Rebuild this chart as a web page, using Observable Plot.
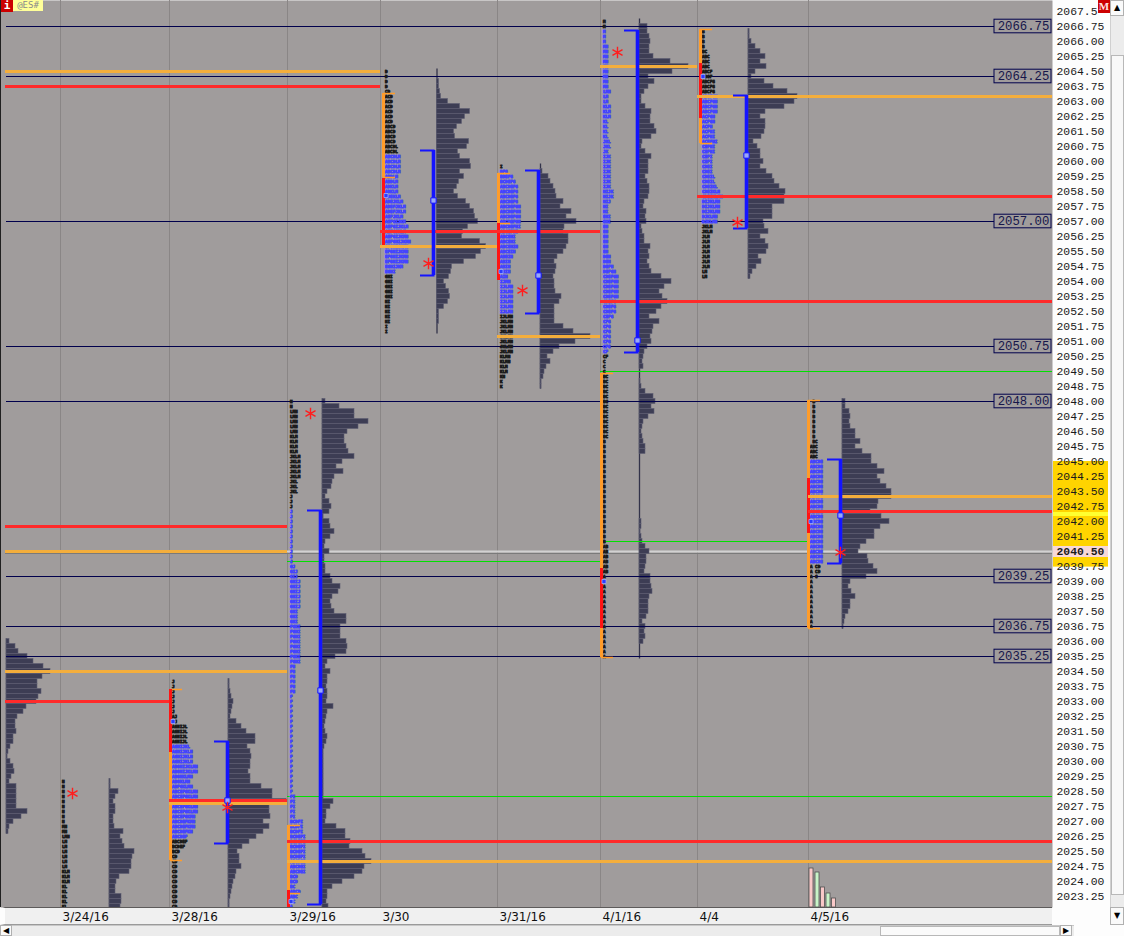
<!DOCTYPE html>
<html>
<head>
<meta charset="utf-8">
<script src="https://cdn.jsdelivr.net/npm/d3@7"></script>
<script src="https://cdn.jsdelivr.net/npm/@observablehq/plot@0.6"></script>
<style>
html,body{margin:0;padding:0;background:#f0f0f0;}
#wrap{position:relative;width:1124px;height:936px;overflow:hidden;background:#f0f0f0;}
#wrap svg{position:absolute;left:0;top:0;}
.c{position:absolute;box-sizing:border-box;}
g[aria-label="tpo"] text{letter-spacing:2.4px;}
g[aria-label="dates"] text{letter-spacing:1.2px;}
.arrow{font:8px "DejaVu Sans",sans-serif;color:#000;text-align:center;}
</style>
</head>
<body>
<div id="wrap">
  <div class="c" style="left:1052px;top:0;width:58px;height:925px;background:#fdfdfd;"></div>
  <div class="c" style="left:0;top:906px;width:1052px;height:19px;background:#f0f0f0;border-top:2px solid #1a1a1a;border-bottom:1px solid #9a9a9a;border-left:5px solid #fdfdfd;"></div>
  <div class="c" style="left:1110px;top:0;width:14px;height:925px;background:#ececec;border-left:1px solid #d0d0d0;"></div>
  <div class="c arrow" style="left:1110px;top:0;width:14px;height:16px;background:#fafafa;border:1px solid #b0b0b0;line-height:14px;">&#9650;</div>
  <div class="c" style="left:1111px;top:55px;width:13px;height:840px;background:#f8f8f8;border:1px solid #b8b8b8;"></div>
  <div class="c arrow" style="left:1110px;top:907px;width:14px;height:18px;background:#fafafa;border:1px solid #b0b0b0;line-height:16px;">&#9660;</div>
  <div class="c" style="left:0;top:925px;width:1124px;height:11px;background:#ececec;border-top:1px solid #c8c8c8;"></div>
  <div class="c arrow" style="left:0;top:925px;width:12px;height:11px;background:#fafafa;border:1px solid #b0b0b0;line-height:9px;">&#9664;</div>
  <div class="c" style="left:880px;top:926px;width:180px;height:10px;background:#fafafa;border:1px solid #b8b8b8;"></div>
  <div class="c arrow" style="left:1060px;top:925px;width:12px;height:11px;background:#fafafa;border:1px solid #b0b0b0;line-height:9px;">&#9654;</div>
  <div class="c" style="left:1074px;top:925px;width:50px;height:11px;background:#fdfdfd;"></div>
  <div class="c" style="left:0;top:0;width:1px;height:907px;background:#202020;"></div>
</div>
<script>
// ---------------- DATA ----------------
const dayLabels = ["3/24/16", "3/28/16", "3/29/16", "3/30", "3/31/16", "4/1/16", "4/4", "4/5/16"];

const priceTicks = [2067.50, 2066.75, 2066.00, 2065.25, 2064.50, 2063.75, 2063.00, 2062.25, 2061.50, 2060.75,
  2060.00, 2059.25, 2058.50, 2057.75, 2057.00, 2056.25, 2055.50, 2054.75, 2054.00, 2053.25,
  2052.50, 2051.75, 2051.00, 2050.25, 2049.50, 2048.75, 2048.00, 2047.25, 2046.50, 2045.75,
  2045.00, 2044.25, 2043.50, 2042.75, 2042.00, 2041.25, 2040.50, 2039.75, 2039.00, 2038.25,
  2037.50, 2036.75, 2036.00, 2035.25, 2034.50, 2033.75, 2033.00, 2032.25, 2031.50, 2030.75,
  2030.00, 2029.25, 2028.50, 2027.75, 2027.00, 2026.25, 2025.50, 2024.75, 2024.00, 2023.25];

const keyLevels = [2066.75, 2064.25, 2057.00, 2050.75, 2048.00, 2039.25, 2036.75, 2035.25];
const lastPrice = 2040.50;
const goldBand = [2045.00, 2039.72];
const brightBand = [2042.45, 2042.25];
const lastBand = [2040.75, 2040.20];

// profiles, index 0..8 = 3/23 (partial), 3/24, 3/28, 3/29, 3/30, 3/31, 4/1, 4/4, 4/5
const profileTop = [2036.00, 2029.00, 2034.00, 2048.00, 2064.50, 2059.75, 2067.00, 2066.50, 2048.00];

const hist0323 = [3,9,12,21,27,37,44,36,31,31,35,32,30,20,17,11,9,9,10,7,7,4,2,1,4,7,8,5,3,10,10,10,10,10,21,15,7,3,2];
const hist0324 = [1,1,9,6,4,6,6,4,4,5,14,11,13,15,25,23,22,22,20,10,7,6,6,12,12,11];
const hist0328 = [1,1,2,3,5,4,3,2,8,13,18,27,27,19,22,23,22,22,20,22,22,33,44,44,58,41,41,42,35,41,35,28,21,14,9,11,11,13,8,7,5,4,3,2,1,1,1];
const hist0329 = [3,17,32,32,46,36,25,22,22,24,26,32,20,14,21,12,10,9,5,3,7,9,7,1,7,8,12,8,3,2,7,2,2,3,3,8,10,18,16,10,8,9,12,24,24,18,18,18,24,25,24,13,5,3,8,5,5,4,
  5,5,4,11,5,4,3,2,3,5,4,2,1,1,1,1,1,1,1,1,1,1,11,8,4,4,3,14,23,23,28,27,40,43,49,42,40,32,20,10,5,5,4,6];
const hist0330 = [0,0,2,2,3,4,11,23,33,28,25,20,17,18,32,30,21,23,33,34,23,27,22,20,17,21,29,33,37,38,41,31,26,25,43,49,44,39,27,15,14,12,7,9,12,13,11,7,2,2,2,0,0];
const hist0331 = [0,2,8,10,13,15,16,23,20,31,26,36,24,23,28,28,26,23,17,14,16,15,13,14,14,15,21,19,14,14,14,14,23,33,50,35,19,13,7,10,6,4,3,1,1];
const hist0401 = [0,
  8,8,10,11,10,10,14,31,49,33,9,15,9,5,2,2,6,12,11,11,15,17,12,3,2,6,12,9,9,9,6,8,10,10,9,5,4,7,6,7,2,3,5,5,11,9,10,8,10,12,22,32,25,20,23,28,22,17,10,20,14,13,11,12,8,5,4,3,
  4,0,
  0,1,2,6,14,16,12,15,9,4,3,2,3,4,6,6,
  0,0,0,0,0,0,0,0,0,0,0,0,0,
  2,2,1,2,3,6,10,7,7,6,5,11,11,12,13,10,9,9,9,7,3,6,5,6,4,
  0,0,0];
const hist0404 = [1,1,3,7,12,17,12,18,7,3,16,25,39,49,46,36,17,12,17,17,16,13,5,9,12,12,15,12,18,24,26,31,37,36,36,24,24,24,15,16,20,12,17,20,18,10,13,8,4,2];
const hist0405 = [3,3,7,8,7,8,13,13,18,13,20,29,29,35,42,35,38,44,49,49,36,35,28,39,47,38,32,32,24,18,16,25,26,31,35,24,8,6,9,13,8,8,6,3,2,1];

// TPO letter rows from the top price down (run-length: "letters:rows")
const tpo0324 = "N:9,MN:2,LMN:1,LM:6,KLM:3,KL:5";
const tpo0328 = "J:7,AJ:2,AGHIJL:4,AGHIJKL:1,AGHIJKLN:3,ABGHIJKLMN:2,ABGHKLMN:1,ABGKLMN:1,ABFGKLMN:1,ABCEFGKLMN:5,ABCEFGKMN:1,ABCDEFKMN:2,ABCDEFKN:1,ABCDEF:2,BCDEF:1,BCD:1,CD:11";
const tpo0329 = "N:2,LMN:5,KLM:4,JKLM:5,JKL:3,J:14,GJ:1,GIJ:2,GHIJ:6,GHI:3,FGHI:8,FH:6,F:20,FI:5,BCDFI:3,BCDEFI:5,ABCDEI:3,BCD:2,BC:1,ABCD:1,ABC:1,AC:1,A:1";
const tpo0330 = "D:4,CD:1,ACD:6,ABCD:4,ABCDL:2,ABCDLM:4,ABDLM:2,ADKLM:2,ADEKLM:1,ADEJKLM:1,ADEFJKLM:2,AEFJKLM:1,AEFGIJKM:1,AEFGIJKLM:1,AEFGJKLM:1,AEFGIJKMN:1,AEFGHIJKMN:1,EFGHIJKMN:4,EGHIJKM:1,EGHI:1,GHI:5,HI:5,I:2";
const tpo0331 = "I:1,DFG:1,BDEFG:1,BCDEFG:1,ABCDEFG:4,ABCDEFGH:4,ABCDEFHI:1,ABCEFHI:1,ABCEHI:2,ABCEHIN:1,ABCEIN:1,ABEIN:1,ABIN:3,AIN:1,IJMN:1,IJLMN:7,JKLMN:7,KLMN:2,KLM:2,KN:1,K:2";
const tpo0401 = "M:5,MN:9,LMN:1,LM:2,KLM:3,KL:4,JKL:2,JK:1,IJK:7,HIJK:2,HIJ:1,HI:2,EHI:2,EH:6,DEH:2,DEFH:1,DEFGH:1,CDEFGH:5,CDEFG:3,CEFG:1,CFG:6,CF:2,C:3,BC:13,B:21,AB:6,A:17";
const tpo0404 = "B:4,BC:1,ABC:3,ABCF:2,ABCFG:3,ABCFGH:4,ACFGH:2,ACFH:1,ACFHI:2,ACEFHI:1,CEFHI:2,CEFI:2,CDEI:2,CDEIL:2,CDEIKL:1,CDEIKLN:1,CDEIKLMN:1,DIJKLMN:3,DJKLMN:2,JKLM:2,JLM:7,LM:2";
const tpo0405 = " B:8, BC:1,ABC:3,ABCDE:21,A CD:2,A C:1,A:10";

const tpoValueArea = [null, null, [2030.75, 2026.25], [2042.50, 2022.75], [2060.25, 2054.50], [2059.50, 2052.50], [2066.50, 2050.50], [2063.25, 2057.00], [2045.00, 2040.00]];
const valueLine = [null, null, [2031.00, 2025.90], [2042.55, 2022.85], [2060.55, 2054.30], [2059.55, 2052.40], [2066.55, 2050.45], [2063.30, 2056.65], [2045.10, 2039.90]];
const valueMid = [null, null, 2028.05, 2033.55, 2058.05, 2054.30, 2051.05, 2060.30, 2042.30];
const rangeBar = [null, null, [2033.60, 2025.05], [2026.80, 2023.40], [2063.40, 2059.20], [2059.40, 2056.90], [2049.40, 2035.20], [2066.60, 2060.90], [2048.05, 2036.65]];
const ibBar = [null, null, [2033.60, 2030.45], [2023.55, 2022.70], [2059.15, 2055.80], [2056.90, 2054.05], [2039.65, 2036.65], [2064.90, 2062.15], [2044.15, 2041.40]];
const starPrice = [null, 2028.40, 2027.70, 2047.40, 2054.90, 2053.55, 2065.45, 2056.95, 2040.45];
const openPrice = [null, null, 2032.00, 2023.00, 2058.30, 2054.50, 2039.00, 2064.25, 2042.00];

// extended levels: [price, from day, to day] (day 9 = right edge)
const orangeLevels = [[2064.50,0,4],[2034.50,0,3],[2040.50,0,3],[2027.90,2,3],[2025.00,3,9],[2055.75,4,5],[2051.25,5,6],[2064.75,6,7],[2063.25,7,9],[2043.25,8,9]];
const redLevels = [[2063.75,0,4],[2033.00,0,2],[2041.75,0,3],[2028.05,2,3],[2026.00,3,9],[2056.50,4,6],[2053.00,6,9],[2058.25,7,9],[2042.50,8,9]];
const greenLevels = [[2028.25,3,9],[2049.50,6,9],[2041.00,6,8],[2040.00,3,6]];

const volTops = [2024.65, 2024.45, 2023.70, 2023.40, 2023.15];

// ---------------- LAYOUT (pixel columns) ----------------
const L = {
  dayX: [5, 60, 169, 287, 380, 497, 600, 697, 808, 1052],
  letterX: [null, 61, 171, 289, 384, 499, 602, 701, 809],
  histX: [6, 109, 228, 322, 436.5, 540, 639, 748, 842],
  valueX: [null, null, 227, 320, 433, 538, 637, 746, 840],
  barX: [null, null, 170, 288, 383, 498, 601, 700, 808],
  starX: [null, 72, 227, 310, 428, 522, 617, 737, 840],
  volX: [809, 815, 820.5, 826, 831.5],
  boxX: [994, 1051],
  axisX: [1052, 1108],
  frameRight: 1052,
  frameBottom: 907
};
const BG = "#a09c9c";
const TPO_FONT = 4.25;

// ---------------- BUILD ----------------
function rle(code) {
  const out = [];
  code.split(",").forEach(tok => {
    const k = tok.lastIndexOf(":");
    const s = tok.slice(0, k).replace(/ /g, "\u00a0");
    const n = +tok.slice(k + 1);
    for (let i = 0; i < n; i++) out.push(s);
  });
  return out;
}
const profileHist = [hist0323, hist0324, hist0328, hist0329, hist0330, hist0331, hist0401, hist0404, hist0405];
const profileTpo = [null, tpo0324, tpo0328, tpo0329, tpo0330, tpo0331, tpo0401, tpo0404, tpo0405];
const yBottom = 2022.7;

const histRows = [], histBase = [];
profileHist.forEach((arr, d) => {
  arr.forEach((v, i) => { if (v > 0) histRows.push({d, p: profileTop[d] - i * 0.25, v}); });
  histBase.push({x: L.histX[d], y1: Math.max(yBottom, profileTop[d] - (arr.length - 1) * 0.25 - 0.125), y2: profileTop[d] + 0.125});
});
const tpoRows = [];
profileTpo.forEach((code, d) => {
  if (!code) return;
  const va = tpoValueArea[d];
  rle(code).forEach((s, i) => {
    const p = profileTop[d] - i * 0.25;
    if (p < yBottom) return;
    const blue = !!va && p <= va[0] + 1e-6 && p >= va[1] - 1e-6;
    tpoRows.push({d, p, s, blue});
  });
});

const idx = d3.range(9);
const vaDays = idx.filter(d => valueLine[d]);
const barDays = idx.filter(d => rangeBar[d]);
const caps = [];
vaDays.forEach(d => { caps.push({x: L.valueX[d], p: valueLine[d][0]}); caps.push({x: L.valueX[d], p: valueLine[d][1]}); });
const rcaps = [];
barDays.forEach(d => { rcaps.push({x: L.barX[d], p: rangeBar[d][0]}); rcaps.push({x: L.barX[d], p: rangeBar[d][1]}); });

const tpoText = (blue) => Plot.text(tpoRows.filter(r => r.blue === blue), {
  x: d => L.letterX[d.d] + 0.5, y: "p", text: "s", textAnchor: "start", dy: 0.6,
  fontSize: TPO_FONT, fontWeight: "bold", fontFamily: "DejaVu Sans Mono",
  fill: blue ? "#4444ff" : "#1c1c1c", stroke: blue ? "#4444ff" : "#1c1c1c", strokeWidth: 0.85,
  ariaLabel: "tpo", clip: "frame"});

// axis label text as visible in the reference (the top one is partly covered by the "M" badge)
const tickText = d => d === 2067.5 ? "2067.5" : d.toFixed(2);

const chart = Plot.plot({
  width: 1124, height: 936,
  marginLeft: 0, marginRight: 1124 - L.frameRight, marginTop: 0, marginBottom: 936 - L.frameBottom,
  x: {domain: [0, L.frameRight], axis: null},
  y: {domain: [yBottom, 2068.05], axis: null},
  style: {background: "transparent", overflow: "visible"},
  marks: [
    Plot.frame({fill: BG}),
    Plot.ruleX(L.dayX.slice(1, 9), {stroke: "#8a8686", strokeWidth: 1}),
    Plot.ruleY([lastPrice], {x1: () => L.dayX[0], x2: () => L.frameRight, stroke: "#d2d2d2", strokeWidth: 2}),
    Plot.ruleY([lastPrice], {x1: () => L.dayX[0], x2: () => L.frameRight, stroke: "#7a7a7a", strokeWidth: 1, dy: 2}),
    // histograms
    Plot.ruleX(histBase, {x: "x", y1: "y1", y2: "y2", stroke: "#33334a", strokeWidth: 1.3}),
    Plot.rect(histRows, {x1: d => L.histX[d.d], x2: d => L.histX[d.d] + d.v, y1: d => d.p - 0.125, y2: d => d.p + 0.125,
      fill: "#3d3d54", stroke: "#5e5e72", strokeWidth: 0.6, clip: "frame"}),
    // key levels
    Plot.ruleY(keyLevels, {x1: () => 6, x2: () => L.boxX[0], stroke: "#00004c", strokeWidth: 1}),
    Plot.ruleY(greenLevels, {y: d => d[0], x1: d => L.dayX[d[1]], x2: d => L.dayX[d[2]], stroke: "#00e000", strokeWidth: 1}),
    // TPO letters
    tpoText(false),
    tpoText(true),
    // range (orange) and initial balance (red) bars
    Plot.ruleX(barDays, {x: d => L.barX[d], y1: d => rangeBar[d][1], y2: d => rangeBar[d][0], stroke: "#ff9c2a", strokeWidth: 3}),
    Plot.ruleY(rcaps, {y: "p", x1: d => d.x, x2: d => d.x + 12, stroke: "#ff9c2a", strokeWidth: 1.5}),
    Plot.ruleX(barDays, {x: d => L.barX[d], y1: d => ibBar[d][1], y2: d => ibBar[d][0], stroke: "#ff1414", strokeWidth: 3}),
    // extended levels
    Plot.ruleY(orangeLevels, {y: d => d[0], x1: d => L.dayX[d[1]], x2: d => L.dayX[d[2]], stroke: "#f4ae3c", strokeWidth: 3}),
    Plot.ruleY(redLevels, {y: d => d[0], x1: d => L.dayX[d[1]], x2: d => L.dayX[d[2]], stroke: "#ff2a2a", strokeWidth: 3}),
    // value area lines
    Plot.ruleX(vaDays, {x: d => L.valueX[d], y1: d => valueLine[d][1], y2: d => valueLine[d][0], stroke: "#1414ff", strokeWidth: 3.6}),
    Plot.ruleY(caps, {y: "p", x1: d => d.x - 13, x2: d => d.x + 1.5, stroke: "#1414ff", strokeWidth: 2}),
    Plot.dot(vaDays, {x: d => L.valueX[d], y: d => valueMid[d], symbol: "square", r: 3, fill: "#9aa8f8", stroke: "#1414ff", strokeWidth: 1}),
    Plot.dot(idx.filter(d => openPrice[d]), {x: d => L.letterX[d] + 1.5, y: d => openPrice[d], symbol: "square", r: 2.3, fill: "#2a3cff", stroke: "#b0bcff", strokeWidth: 0.7}),
    // single-print stars
    Plot.dot(idx.filter(d => starPrice[d]), {x: d => L.starX[d], y: d => starPrice[d], symbol: "asterisk", r: 5.5, stroke: "#ff1e1e", strokeWidth: 1.4}),
    // 4/5 mini volume bars
    Plot.rect(volTops, {x1: (d, i) => L.volX[i], x2: (d, i) => L.volX[i] + 4, y1: () => yBottom, y2: d => d,
      fill: (d, i) => i % 2 ? "#c8f4c8" : "#f8c8c8", stroke: "#505050", strokeWidth: 0.8}),
    // boxed key level labels
    Plot.rect(keyLevels, {x1: () => L.boxX[0], x2: () => L.boxX[1], y1: d => d - 0.34, y2: d => d + 0.34, fill: BG, stroke: "#00004c", strokeWidth: 1}),
    Plot.text(keyLevels, {x: () => (L.boxX[0] + L.boxX[1]) / 2 + 0.5, y: d => d, text: d => d.toFixed(2), fontSize: 12.3, fontFamily: "Liberation Mono", fill: "#16164a"}),
    // right price axis
    Plot.rect([goldBand], {x1: () => L.axisX[0] + 1, x2: () => L.axisX[1], y1: d => d[1], y2: d => d[0], fill: "#ffd400"}),
    Plot.rect([brightBand], {x1: () => L.axisX[0] + 1, x2: () => L.axisX[1], y1: d => d[1], y2: d => d[0], fill: "#ffff30"}),
    Plot.rect([lastBand], {x1: () => L.axisX[0] + 1, x2: () => L.axisX[1], y1: d => d[1], y2: d => d[0], fill: "#f8d8d8"}),
    Plot.text(priceTicks.filter(p => p !== lastPrice), {x: () => L.axisX[0] + 4, y: d => d, text: tickText, textAnchor: "start",
      fontSize: 11.4, fontFamily: "Liberation Mono", fill: "#1a1a1a"}),
    Plot.text([lastPrice], {x: () => L.axisX[0] + 4, y: d => d, text: tickText, textAnchor: "start",
      fontSize: 11.4, fontWeight: "bold", fontFamily: "Liberation Mono", fill: "#1a1a1a"}),
    // date axis
    Plot.text(dayLabels, {x: (d, i) => L.dayX[i + 1] + 2, y: () => yBottom, dy: 10, text: d => d, textAnchor: "start",
      fontSize: 12, fontFamily: "DejaVu Sans", fill: "#101010", ariaLabel: "dates"})
  ]
});
const wrap = document.getElementById("wrap");
wrap.insertBefore(chart, wrap.children[9]);

const badge = (html, css) => { const el = document.createElement("div"); el.className = "c"; el.style.cssText = css; el.innerHTML = html; wrap.appendChild(el); };
badge("i", "left:1px;top:0;width:12px;height:12px;background:#cc0000;color:#fff;font:bold 11px 'DejaVu Sans Mono',monospace;text-align:center;line-height:12px;");
badge("@ES#", "left:13px;top:0;width:30px;height:11px;background:#ffff99;color:#8a8a8a;font:9px 'DejaVu Sans Mono',monospace;text-align:center;line-height:11px;");
badge("M", "left:1098px;top:0;width:12px;height:13px;background:#cc0000;color:#ffe0e0;font:bold 11px 'Liberation Serif',serif;text-align:center;line-height:13px;");
</script>
</body>
</html>
